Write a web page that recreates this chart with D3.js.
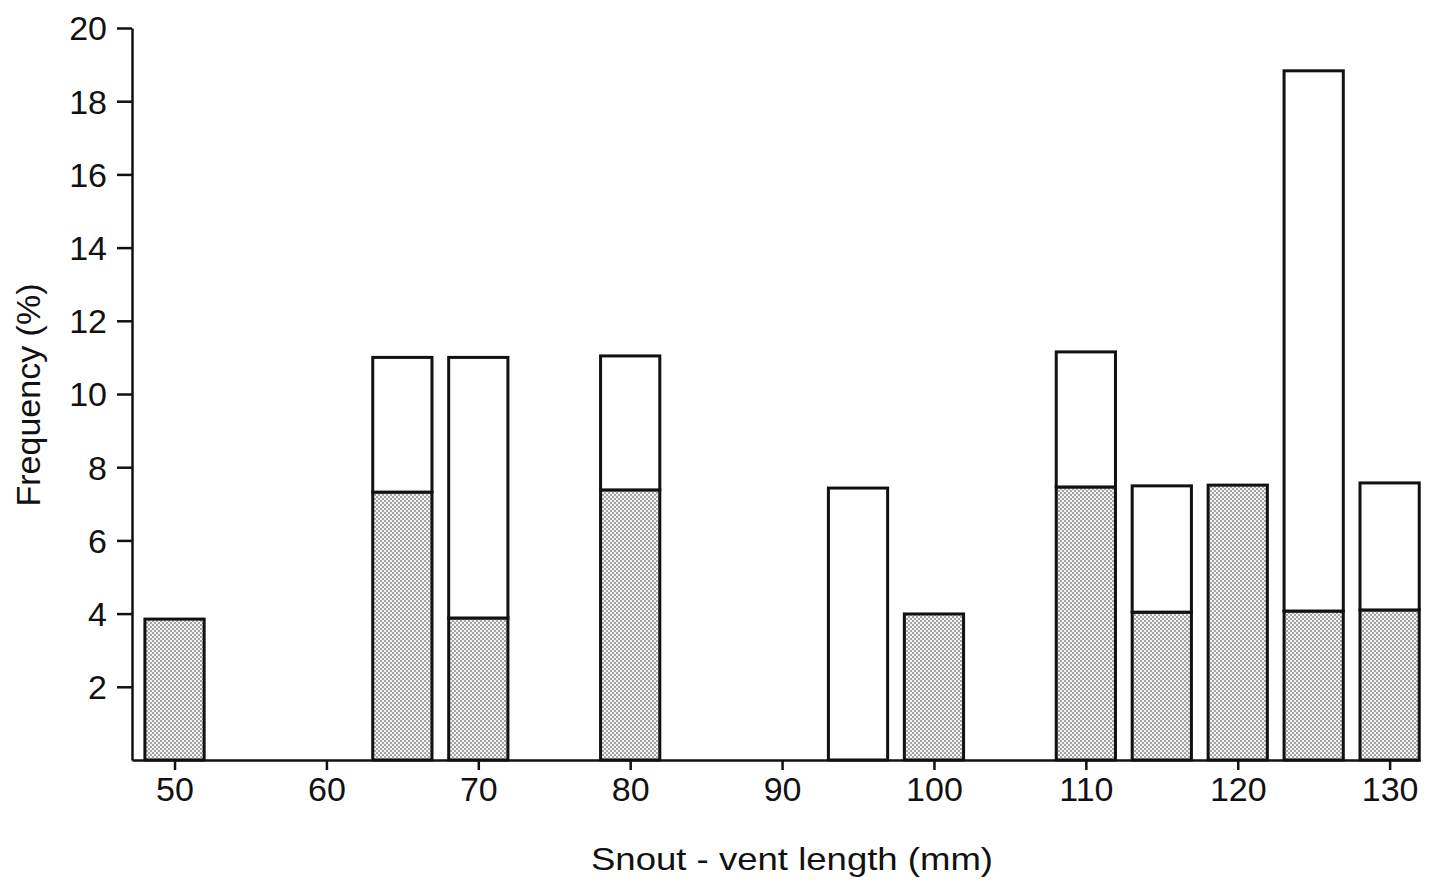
<!DOCTYPE html>
<html>
<head>
<meta charset="utf-8">
<script src="https://cdn.jsdelivr.net/npm/d3@7"></script>
<style>
    body { margin: 0; background: #fff; }
    svg text { font-family: "Liberation Sans", Arial, Helvetica, sans-serif; fill: #111; }
</style>
</head>
<body>
<div id="chart"></div>
<script>
// snout-vent length bins (mm), bar centres
const bins = [50, 65, 70, 80, 95, 100, 110, 115, 120, 125, 130];
// shaded (lower) part of each bar, %
const shaded = [3.85, 7.32, 3.88, 7.38, 0, 3.99, 7.46, 4.04, 7.51, 4.07, 4.10];
// open (upper) part of each bar, %
const open = [0, 3.68, 7.12, 3.66, 7.43, 0, 3.69, 3.45, 0, 14.76, 3.47];

const yTicks = [2, 4, 6, 8, 10, 12, 14, 16, 18, 20];
const xTicks = [50, 60, 70, 80, 90, 100, 110, 120, 130];

const width = 1432, height = 882;
const binWidth = 3.9;

let svg = d3.select("#chart").append("svg")
    .attr("width", width)
    .attr("height", height);

// stipple fill for the shaded part
let defs = svg.append("defs");
let pat = defs.append("pattern")
    .attr("id", "stipple")
    .attr("patternUnits", "userSpaceOnUse")
    .attr("width", 4)
    .attr("height", 4);
pat.append("rect").attr("width", 4).attr("height", 4).attr("fill", "#f2f2f2");
pat.append("circle").attr("cx", 1).attr("cy", 1).attr("r", 0.8).attr("fill", "#444");
pat.append("circle").attr("cx", 3).attr("cy", 3).attr("r", 0.8).attr("fill", "#444");

let x = d3.scaleLinear().domain([47.2, 132]).range([132, 1420]);
let y = d3.scaleLinear().domain([0, 20]).range([760, 28]);

// stack the two parts
let rows = bins.map((b, i) => ({bin: b, shaded: shaded[i], open: open[i]}));
let stacked = d3.stack().keys(["shaded", "open"])(rows);

let fills = {shaded: "url(#stipple)", open: "#fff"};

stacked.forEach(layer => {
    svg.append("g")
        .selectAll("rect")
        .data(layer.filter(d => d[1] - d[0] > 0))
        .enter().append("rect")
        .attr("x", d => x(d.data.bin - binWidth / 2))
        .attr("width", d => x(d.data.bin + binWidth / 2) - x(d.data.bin - binWidth / 2))
        .attr("y", d => y(d[1]))
        .attr("height", d => y(d[0]) - y(d[1]))
        .attr("fill", fills[layer.key])
        .attr("stroke", "#111")
        .attr("stroke-width", 3);
});

// axes
let xAxis = d3.axisBottom(x).tickValues(xTicks).tickSize(10).tickPadding(7).tickSizeOuter(0);
let yAxis = d3.axisLeft(y).tickValues(yTicks).tickSize(15).tickPadding(10).tickSizeOuter(0);

let gx = svg.append("g")
    .attr("transform", "translate(0," + y(0) + ")")
    .call(xAxis);
let gy = svg.append("g")
    .attr("transform", "translate(" + x(47.2) + ",0)")
    .call(yAxis);

[gx, gy].forEach(g => {
    g.select(".domain").attr("stroke", "#111").attr("stroke-width", 2.5);
    g.selectAll(".tick line").attr("stroke", "#111").attr("stroke-width", 2.5);
    g.selectAll(".tick text")
        .attr("font-size", 34)
        .attr("font-family", "Liberation Sans, Arial, sans-serif")
        .attr("fill", "#111");
});
gy.selectAll(".tick text").attr("dy", "0.35em");

// axis titles
svg.append("text")
    .attr("x", 792)
    .attr("y", 870)
    .attr("text-anchor", "middle")
    .attr("font-size", 32)
    .attr("textLength", 402)
    .attr("lengthAdjust", "spacingAndGlyphs")
    .text("Snout - vent length (mm)");

svg.append("text")
    .attr("transform", "translate(40,395) rotate(-90)")
    .attr("text-anchor", "middle")
    .attr("font-size", 34)
    .text("Frequency (%)");
</script>
</body>
</html>
